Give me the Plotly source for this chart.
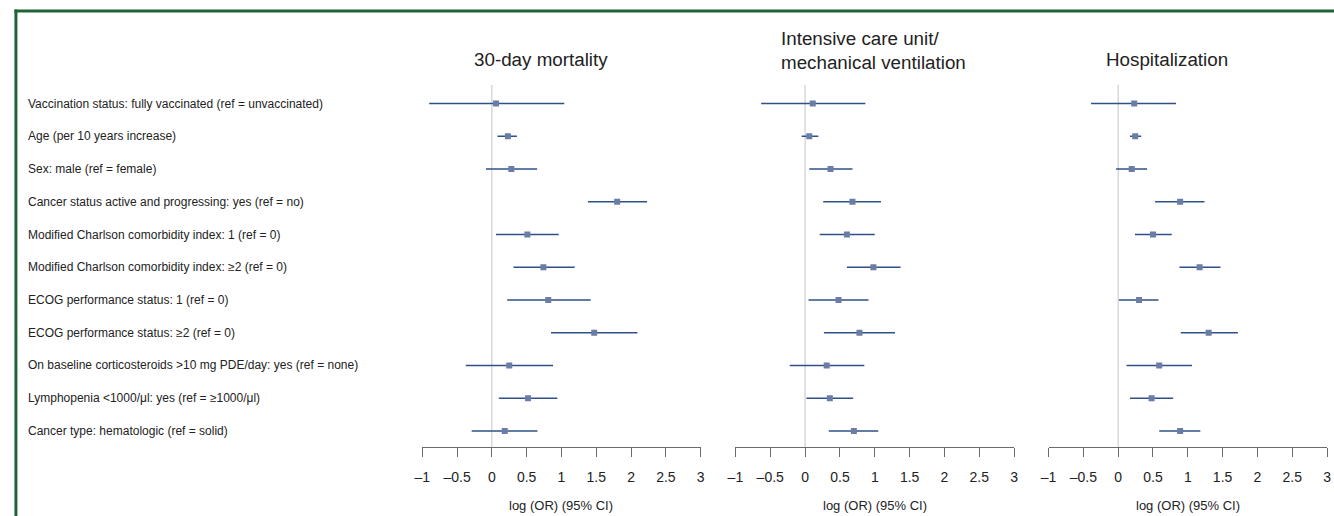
import plotly.graph_objects as go

labels = [
    "Vaccination status: fully vaccinated (ref = unvaccinated)",
    "Age (per 10 years increase)",
    "Sex: male (ref = female)",
    "Cancer status active and progressing: yes (ref = no)",
    "Modified Charlson comorbidity index: 1 (ref = 0)",
    "Modified Charlson comorbidity index: ≥2 (ref = 0)",
    "ECOG performance status: 1 (ref = 0)",
    "ECOG performance status: ≥2 (ref = 0)",
    "On baseline corticosteroids &gt;10 mg PDE/day: yes (ref = none)",
    "Lymphopenia &lt;1000/μl: yes (ref = ≥1000/μl)",
    "Cancer type: hematologic (ref = solid)",
]
rows = list(range(1, len(labels) + 1))

panel_titles = ["30-day mortality", "Intensive care unit/<br>mechanical ventilation", "Hospitalization"]

mort_est = [0.06, 0.23, 0.28, 1.80, 0.51, 0.74, 0.81, 1.47, 0.25, 0.52, 0.185]
mort_lo = [-0.90, 0.08, -0.085, 1.38, 0.06, 0.31, 0.22, 0.85, -0.375, 0.10, -0.29]
mort_hi = [1.04, 0.36, 0.65, 2.23, 0.96, 1.19, 1.42, 2.09, 0.88, 0.94, 0.655]

icu_est = [0.11, 0.06, 0.365, 0.68, 0.60, 0.98, 0.48, 0.78, 0.31, 0.355, 0.70]
icu_lo = [-0.63, -0.05, 0.06, 0.26, 0.21, 0.60, 0.05, 0.27, -0.22, 0.02, 0.34]
icu_hi = [0.865, 0.19, 0.68, 1.09, 1.00, 1.37, 0.91, 1.29, 0.85, 0.69, 1.05]

hosp_est = [0.23, 0.245, 0.195, 0.89, 0.50, 1.17, 0.30, 1.30, 0.59, 0.48, 0.89]
hosp_lo = [-0.39, 0.17, -0.03, 0.53, 0.24, 0.88, 0.01, 0.90, 0.12, 0.17, 0.59]
hosp_hi = [0.83, 0.33, 0.415, 1.24, 0.77, 1.47, 0.58, 1.72, 1.06, 0.79, 1.18]

tick_vals = [-1, -0.5, 0, 0.5, 1, 1.5, 2, 2.5, 3]
tick_text = ["–1", "–0.5", "0", "0.5", "1", "1.5", "2", "2.5", "3"]
x_title = "log (OR) (95% CI)"

W, H = 1334, 516
def px(x):
    return x / W
def py(y):
    return 1 - y / H

domains = [(418, 699), (734, 1015.3), (1050, 1331)]
title_pos = [(538, 60, "center"), (778, 51, "left"), (1170, 60, "center")]

series = [
    (mort_est, mort_lo, mort_hi),
    (icu_est, icu_lo, icu_hi),
    (hosp_est, hosp_lo, hosp_hi),
]

LINE = "#2f5187"
MARK = "#6a7da6"

fig = go.Figure()
axnames = ["x", "x2", "x3"]
for i, (est, lo, hi) in enumerate(series):
    plus = [h - e for e, h in zip(est, hi)]
    minus = [e - l for e, l in zip(est, lo)]
    fig.add_trace(go.Scatter(
        x=est, y=rows, xaxis=axnames[i], yaxis="y", mode="markers",
        marker=dict(symbol="square", size=6, color=MARK, line=dict(width=0)),
        error_x=dict(type="data", array=plus, arrayminus=minus, symmetric=False,
                     color=LINE, thickness=1.5, width=0),
        showlegend=False, hoverinfo="skip",
    ))

# y: row 1 at pixel 103.6, spacing 32.73; domain from pixel 85 to 447
top_px, bot_px = 85, 447
v_top = 1 + (top_px - 103.6) / 32.73
v_bot = 1 + (bot_px - 103.6) / 32.73

layout = dict(
    width=W, height=H,
    margin=dict(l=0, r=0, t=0, b=0),
    paper_bgcolor="white", plot_bgcolor="white",
    font=dict(family="Liberation Sans, Arial, Helvetica, sans-serif", color="#222"),
    yaxis=dict(domain=[py(bot_px), py(top_px)], range=[v_bot, v_top], visible=False,
               showgrid=False, zeroline=False),
    shapes=[], annotations=[],
)
for i, (a, b) in enumerate(domains):
    key = "xaxis" if i == 0 else f"xaxis{i+1}"
    layout[key] = dict(
        domain=[px(a), px(b)], range=[-1, 3], anchor="y",
        showgrid=False, zeroline=False, showline=True, linecolor="#6b6b6b", linewidth=1,
        ticks="outside", ticklen=9, tickcolor="#6b6b6b", tickwidth=1,
        tickvals=tick_vals, ticktext=tick_text, tickfont=dict(size=14, color="#222"),
        ticklabelstandoff=8,
    )
    xr = axnames[i]
    layout["shapes"].append(dict(
        type="line", xref=xr, yref="paper", x0=0, x1=0,
        y0=py(bot_px), y1=py(top_px), line=dict(color="#c4c4c4", width=1), layer="below"))
    layout["annotations"].append(dict(
        xref=f"{xr} domain", yref="paper", x=0.5, y=py(505), text=x_title,
        showarrow=False, xanchor="center", yanchor="middle", font=dict(size=13, color="#222")))
    tx, ty, anc = title_pos[i]
    layout["annotations"].append(dict(
        xref="paper", yref="paper", x=px(tx), y=py(ty), text=panel_titles[i],
        showarrow=False, xanchor=anc, yanchor="middle", align="left",
        font=dict(size=18.8, color="#222")))

for r, lab in zip(rows, labels):
    layout["annotations"].append(dict(
        xref="paper", yref="y", x=px(18), y=r, text=lab, showarrow=False,
        xanchor="left", yanchor="middle", font=dict(size=12, color="#222")))

# green frame (left and top edges)
layout["shapes"].append(dict(type="line", xref="paper", yref="paper",
                             x0=px(8), x1=px(8), y0=-0.05, y1=py(9.5),
                             line=dict(color="#1e6434", width=3)))
layout["shapes"].append(dict(type="line", xref="paper", yref="paper",
                             x0=px(6.5), x1=1.05, y0=py(11), y1=py(11),
                             line=dict(color="#1e6434", width=3)))

fig.update_layout(**layout)
fig.write_html(
    "out.html",
    config={"displayModeBar": False},
    post_script="document.body.style.margin='0';document.body.style.overflow='hidden';",
)
